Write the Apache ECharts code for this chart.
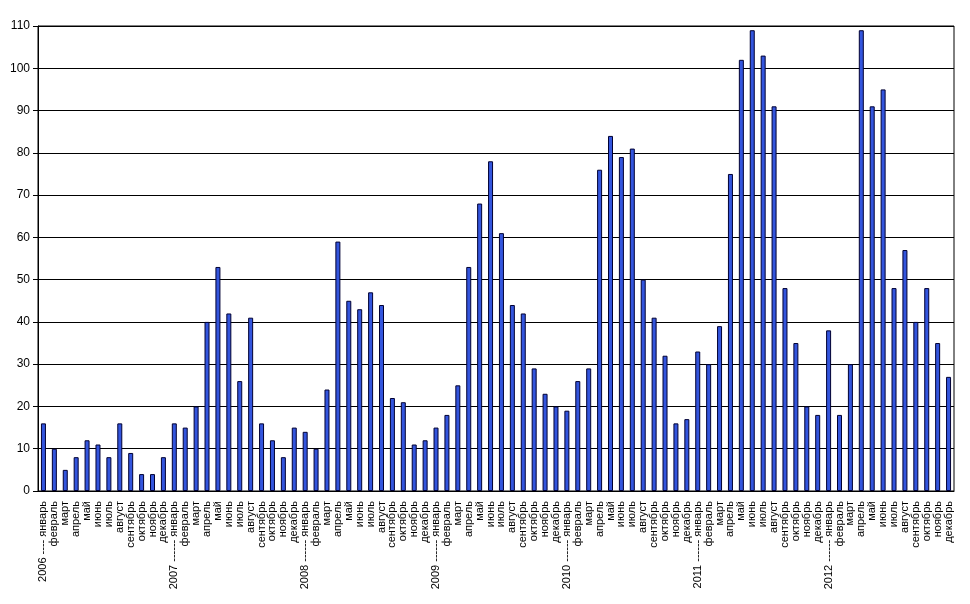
<!DOCTYPE html>
<html>
<head>
<meta charset="utf-8">
<script src="https://cdn.jsdelivr.net/npm/echarts@6/dist/echarts.min.js"></script>
<style>
html, body { margin:0; padding:0; background:#fff; }
#chart { width:970px; height:604px; }
</style>
</head>
<body>
<div id="chart"></div>
<script>
var months = ['январь','февраль','март','апрель','май','июнь','июль','август','сентябрь','октябрь','ноябрь','декабрь'];
var years = ['2006','2007','2008','2009','2010','2011','2012'];
var yearDash = ['----','------','------','------','------','------','------'];

var v2006 = [16,10,5,8,12,11,8,16,9,4,4,8];
var v2007 = [16,15,20,40,53,42,26,41,16,12,8,15];
var v2008 = [14,10,24,59,45,43,47,44,22,21,11,12];
var v2009 = [15,18,25,53,68,78,61,44,42,29,23,20];
var v2010 = [19,26,29,76,84,79,81,50,41,32,16,17];
var v2011 = [33,30,39,75,102,109,103,91,48,35,20,18];
var v2012 = [38,18,30,109,91,95,48,57,40,48,35,27];

var yearValues = [v2006, v2007, v2008, v2009, v2010, v2011, v2012];

// категории: первый месяц года с подписью года
var categories = [];
var values = [];
for (var y = 0; y < years.length; y++) {
	for (var m = 0; m < months.length; m++) {
		if (m === 0) {
			categories.push(years[y] + ' ' + yearDash[y] + ' ' + months[m]);
		} else {
			categories.push(months[m]);
		}
		values.push(yearValues[y][m]);
	}
}

var myChart = echarts.init(document.getElementById('chart'));
var option = {
	animation: false,
	textStyle: {
		fontFamily: 'Arial, "Liberation Sans", sans-serif'
	},
	grid: {
		left: 38,
		right: 16,
		top: 26,
		bottom: 113,
		show: true,
		borderColor: '#000',
		borderWidth: 1,
		containLabel: false
	},
	xAxis: {
		type: 'category',
		data: categories,
		axisLine: {
			show: true,
			lineStyle: { color: '#000', width: 1 }
		},
		axisTick: { show: false },
		axisLabel: {
			interval: 0,
			rotate: 90,
			margin: 10,
			color: '#000',
			fontSize: 11,
			fontFamily: 'Arial, "Liberation Sans", sans-serif'
		}
	},
	yAxis: {
		type: 'value',
		min: 0,
		max: 110,
		interval: 10,
		axisLine: {
			show: true,
			lineStyle: { color: '#000', width: 1 }
		},
		axisTick: {
			show: true,
			length: 5,
			lineStyle: { color: '#000' }
		},
		axisLabel: {
			margin: 8,
			color: '#000',
			fontSize: 12,
			fontFamily: 'Arial, "Liberation Sans", sans-serif'
		},
		splitLine: {
			show: true,
			lineStyle: { color: '#000', width: 1 }
		}
	},
	series: [
	{
		type: 'bar',
		data: values,
		barWidth: 5,
		itemStyle: {
			color: '#3355DD',
			borderColor: '#000033',
			borderWidth: 1
		}
	}
	]
};
myChart.setOption(option);
</script>
</body>
</html>
